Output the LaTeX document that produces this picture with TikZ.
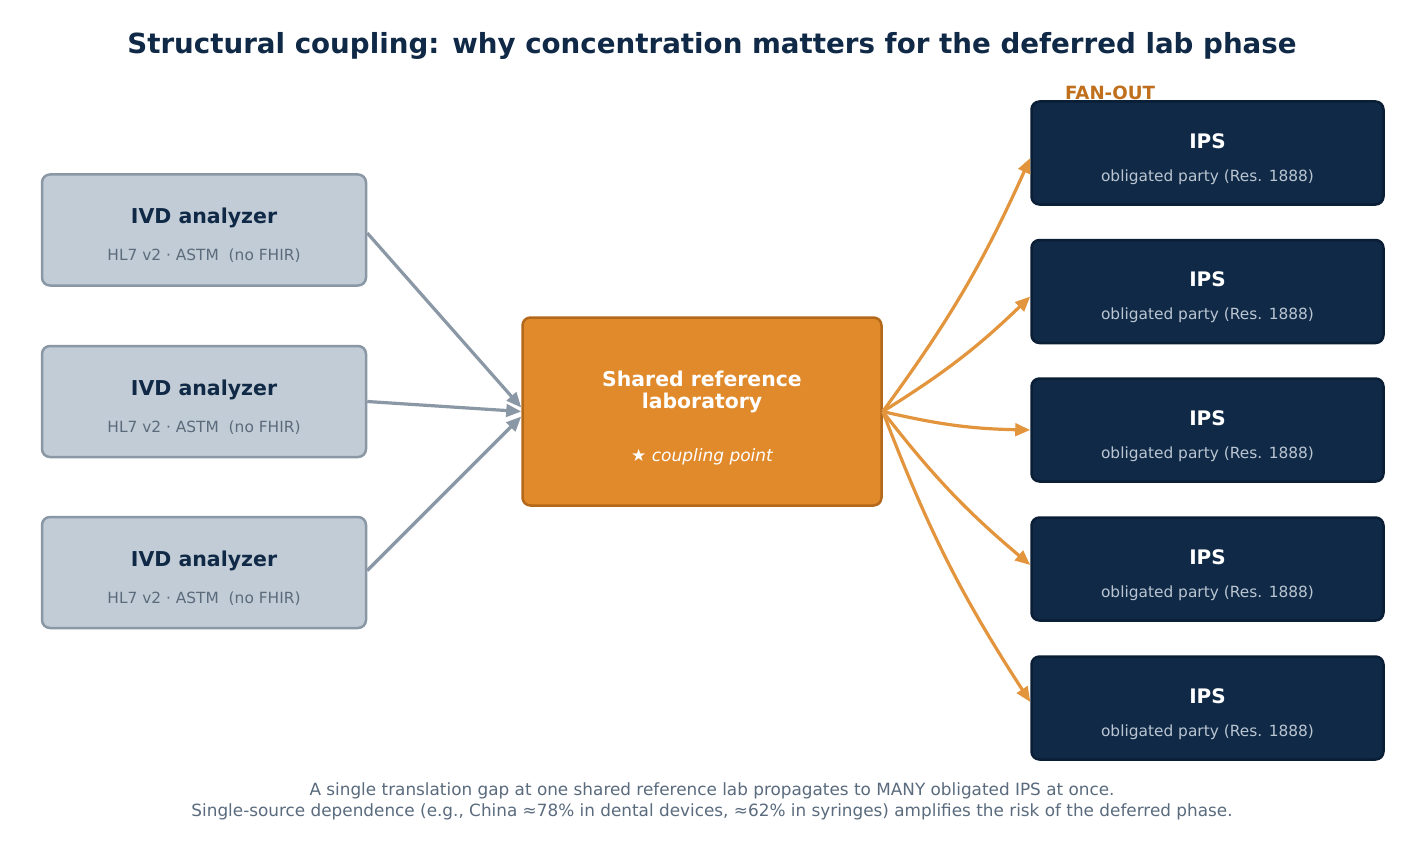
\documentclass[tikz,border=0pt]{standalone}
\usepackage{fontspec}
\setmainfont{DejaVu Sans}
\usetikzlibrary{arrows.meta,calc}
\definecolor{navy}{HTML}{0F2946}
\definecolor{navyb}{HTML}{0A1E36}
\definecolor{grayfill}{HTML}{C2CCD6}
\definecolor{grayline}{HTML}{8A97A4}
\definecolor{subgray}{HTML}{5B6B7C}
\definecolor{orfill}{HTML}{E08A2C}
\definecolor{orline}{HTML}{B4681A}
\definecolor{orarrow}{HTML}{E3953E}
\definecolor{ipssub}{HTML}{BAC5D1}
\definecolor{fanout}{HTML}{C0701C}
\definecolor{foot}{HTML}{5A6B7E}
\tikzset{
  x=1pt,y=-1pt,
  ivdbox/.style={draw=grayline,fill=grayfill,line width=2.5pt,rounded corners=8pt,minimum width=324pt,minimum height=111pt,inner sep=0pt},
  ipsbox/.style={draw=navyb,fill=navy,line width=2.5pt,rounded corners=8pt,minimum width=352pt,minimum height=103pt,inner sep=0pt},
  labbox/.style={draw=orline,fill=orfill,line width=2.5pt,rounded corners=8pt,minimum width=359pt,minimum height=188pt,inner sep=0pt},
  ivdtitle/.style={font=\fontsize{20.5}{24}\selectfont\bfseries,text=navy,inner sep=0pt},
  ivdsub/.style={font=\fontsize{15.4}{18}\selectfont,text=subgray,inner sep=0pt},
  ipstitle/.style={font=\fontsize{20}{24}\selectfont\bfseries,text=white,inner sep=0pt},
  ipssubt/.style={font=\fontsize{15.4}{18}\selectfont,text=ipssub,inner sep=0pt},
  grayarrow/.style={draw=grayline,line width=3.2pt,-{Triangle[length=15pt,width=12.5pt]}},
  orarrowst/.style={draw=orarrow,line width=3.2pt,-{Triangle[length=15pt,width=12.5pt]}},
}
\begin{document}
\begin{tikzpicture}
\useasboundingbox (0,0) rectangle (1425,848);
\fill[white] (0,0) rectangle (1425,848);

\node[font=\fontsize{27.7}{32}\selectfont\bfseries,text=navy,inner sep=0pt] (title) at (712,46) {Structural coupling: why concentration matters for the deferred lab phase};

% left boxes
\foreach \i/\y in {1/230,2/401.5,3/572.5}{
  \node[ivdbox] (ivd\i) at (204,\y) {};
  \node[ivdtitle] (ivd\i t) at ($(ivd\i.center)+(0,-12)$) {IVD analyzer};
  \node[ivdsub] (ivd\i s) at ($(ivd\i.center)+(0,26)$) {HL7 v2 · ASTM\ \ (no FHIR)};
}

% center
\node[labbox] (lab) at (702,411.5) {};
\node[font=\fontsize{20.4}{22}\selectfont\bfseries,text=white,align=center,inner sep=0pt] (labt) at ($(lab.center)+(0,-20)$) {Shared reference\\laboratory};
\node[font=\fontsize{17}{20}\selectfont\itshape,text=white,inner sep=0pt] (labs) at ($(lab.center)+(0,45)$) {★ coupling point};

% right boxes
\foreach \i/\y in {1/153,2/291.5,3/430,4/569,5/708}{
  \node[ipsbox] (ips\i) at (1207.5,\y) {};
  \node[ipstitle] (ips\i t) at ($(ips\i.center)+(0,-12)$) {IPS};
  \node[ipssubt] (ips\i s) at ($(ips\i.center)+(0,24)$) {obligated party (Res. 1888)};
}
\node[font=\fontsize{18.2}{22}\selectfont\bfseries,text=fanout,inner sep=0pt] (fan) at (1110,93) {FAN-OUT};

% left arrows
\draw[grayarrow] ($(ivd1.east)+(0,3)$) -- ($(lab.west)+(0,-4)$);
\draw[grayarrow] (ivd2.east) -- (lab.west);
\draw[grayarrow] ($(ivd3.east)+(0,-2)$) -- ($(lab.west)+(0,5)$);

% right arrows
\draw[orarrowst] (lab.east) to[bend right=6] ($(ips1.west)+(0,5)$);
\draw[orarrowst] (lab.east) to[bend right=6] ($(ips2.west)+(0,5)$);
\draw[orarrowst] (lab.east) to[bend right=6] ($(ips3.west)+(0,0)$);
\draw[orarrowst] (lab.east) to[bend right=6] ($(ips4.west)+(0,-4)$);
\draw[orarrowst] (lab.east) to[bend right=6] ($(ips5.west)+(0,-6)$);

% footer
\node[font=\fontsize{16.85}{21}\selectfont,text=foot,align=center,inner sep=0pt] (footer) at (712,801.5) {A single translation gap at one shared reference lab propagates to MANY obligated IPS at once.\\Single-source dependence (e.g., China ≈78\% in dental devices, ≈62\% in syringes) amplifies the risk of the deferred phase.};
\end{tikzpicture}
\end{document}
